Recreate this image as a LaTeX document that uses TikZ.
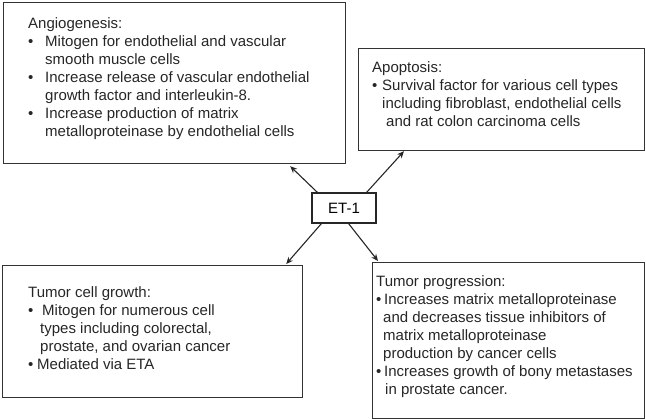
\documentclass[tikz,border=0pt]{standalone}
\usepackage{fontspec}
\setmainfont{Liberation Sans}
\usetikzlibrary{positioning,arrows.meta}

\newcommand{\bul}[1]{\makebox[#1][l]{\textbullet}}

\begin{document}
\begin{tikzpicture}[
  x=1pt, y=-1pt,
  box/.style={draw=black!80, line width=1.2pt, anchor=north west, inner sep=0pt},
  txt/.style={font=\fontsize{15}{18}\selectfont, text=black!85, align=left, inner sep=0pt},
  arr/.style={-{Stealth[length=7pt,width=6pt]}, line width=1.1pt, black!85}
]
\useasboundingbox (0,0) rectangle (646,419);

% Four boxes
\node[box, minimum width=342pt, minimum height=161pt] (angio) at (3,2) {};
\node[txt, below right=15pt and 25pt of angio.north west] (angiotxt) {Angiogenesis:\\
\bul{17pt}Mitogen for endothelial and vascular\\
\hspace*{17pt}smooth muscle cells\\
\bul{17pt}Increase release of vascular endothelial\\
\hspace*{17pt}growth factor and interleukin-8.\\
\bul{17pt}Increase production of matrix\\
\hspace*{17pt}metalloproteinase by endothelial cells};

\node[box, minimum width=286pt, minimum height=102pt] (apop) at (358,48) {};
\node[txt, below right=13.5pt and 14pt of apop.north west] (apoptxt) {Apoptosis:\\
\bul{10pt}Survival factor for various cell types\\
\hspace*{10pt}including fibroblast, endothelial cells\\
\hspace*{14pt}and rat colon carcinoma cells};

\node[box, minimum width=300pt, minimum height=132pt] (growth) at (2,265) {};
\node[txt, below right=21pt and 26pt of growth.north west] (growthtxt) {Tumor cell growth:\\
\bul{14pt}Mitogen for numerous cell\\
\hspace*{12pt}types including colorectal,\\
\hspace*{12pt}prostate, and ovarian cancer\\
\bul{9pt}Mediated via ETA};

\node[box, minimum width=272pt, minimum height=156pt] (prog) at (372,262) {};
\node[txt, below right=13pt and 4pt of prog.north west] (progtxt) {Tumor progression:\\
\bul{8pt}Increases matrix metalloproteinase\\
\hspace*{7pt}and decreases tissue inhibitors of\\
\hspace*{7pt}matrix metalloproteinase\\
\hspace*{7pt}production by cancer cells\\
\bul{8pt}Increases growth of bony metastases\\
\hspace*{9pt}in prostate cancer.};

% Centre
\node[draw=black!85, line width=1.2pt, minimum width=64pt, minimum height=30pt, font=\fontsize{15}{18}\selectfont] (et1) at (344,208) {ET-1};

% Arrows out of ET-1
\draw[arr] ([xshift=6pt]et1.north west) -- ([xshift=-56pt,yshift=-2pt]angio.south east);
\draw[arr] ([xshift=-10pt]et1.north east) -- ([xshift=46pt]apop.south west);
\draw[arr] ([xshift=10pt]et1.south west) -- ([xshift=-17pt,yshift=1pt]growth.north east);
\draw[arr] ([xshift=-28pt]et1.south east) -- ([xshift=6pt,yshift=1pt]prog.north west);

\end{tikzpicture}
\end{document}
